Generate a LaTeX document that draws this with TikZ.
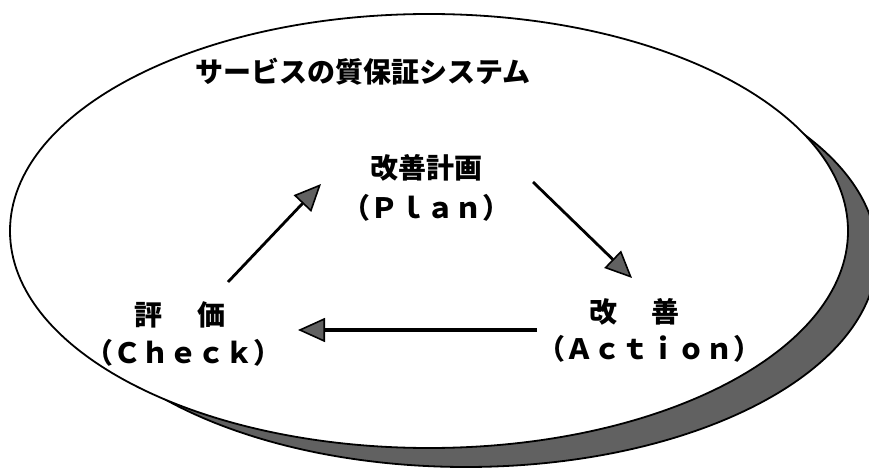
\documentclass[tikz,border=0pt]{standalone}
\usepackage{fontspec}
\newfontfamily\jp{Noto Sans CJK JP}
\usetikzlibrary{arrows.meta}
\begin{document}
\begin{tikzpicture}[x=1pt,y=-1pt,
  lbl/.style={font=\jp\bfseries\fontsize{28}{30}\selectfont, inner sep=0pt},
  flow/.style={line width=2.8pt, -{Triangle[length=27pt,width=24pt,fill=black!62,line width=1.6pt]}},
  shadowfill/.style={draw=black, line width=1.8pt, fill=black!62},
  mainfill/.style={draw=black, line width=1.8pt, fill=white}]
\useasboundingbox (0,0) rectangle (869,470);
% shadow crescent and main ellipse
\path[shadowfill] (466,255) ellipse [x radius=411pt, y radius=212pt];
\path[mainfill] (429,231) ellipse [x radius=419pt, y radius=217pt];
% labels
\node[lbl] (title) at (363,72) {サービスの質保証システム};
\node[lbl] (planjp) at (426,168) {改善計画};
\node[lbl] (planen) at (426,208) {（Ｐｌａｎ）};
\node[lbl] (checkjp) at (180,315) {評　\hspace{7pt}価};
\node[lbl] (checken) at (183,353) {（Ｃｈｅｃｋ）};
\node[lbl] (actjp) at (634,312) {改　\hspace{6pt}善};
\node[lbl] (acten) at (649,349) {（Ａｃｔｉｏｎ）};
% arrow end points
\coordinate (a1s) at (228,282);
\coordinate (a1e) at (321,184);
\coordinate (a2s) at (533,182);
\coordinate (a2e) at (632,278);
\coordinate (a3s) at (537,330);
\coordinate (a3e) at (298,330);
\draw[flow] (a1s) -- (a1e);
\draw[flow] (a2s) -- (a2e);
\draw[flow, line width=3.2pt] (a3s) -- (a3e);
\end{tikzpicture}
\end{document}
